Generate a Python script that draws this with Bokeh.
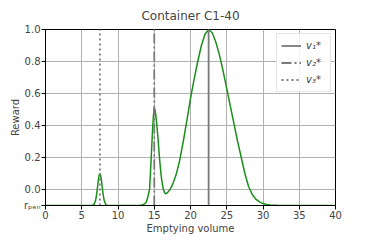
from bokeh.plotting import figure
from bokeh.models import Range1d, FixedTicker, Legend, LegendItem, PrintfTickFormatter
from bokeh.embed import file_html
from bokeh.resources import INLINE

# ---- data ----
x_ticks = [0, 5, 10, 15, 20, 25, 30, 35, 40]
y_ticks = [0.0, 0.2, 0.4, 0.6, 0.8, 1.0]
r_pen = -0.1
y_top = 1.0

v_star = [22.5, 15.0, 7.5]
v_labels = ["v₁*", "v₂*", "v₃*"]

volume = [0.0, 6.3, 6.5, 6.7, 6.9, 7.0, 7.1, 7.2, 7.3, 7.4, 7.5, 7.6, 7.7, 7.8, 7.9,
          8.0, 8.1, 8.3, 8.5, 9.0,
          12.5, 13.0, 13.3, 13.6, 13.9, 14.1, 14.25, 14.35, 14.45, 14.58, 14.7, 14.8,
          14.9, 15.0, 15.1, 15.2, 15.3, 15.4, 15.5, 15.6, 15.7, 15.8, 15.9, 16.0, 16.1,
          16.2, 16.3, 16.4, 16.55, 16.7, 16.9, 17.1, 17.3, 17.6, 18.0, 18.5, 19.0, 19.5,
          20.0, 20.5, 21.0, 21.5, 22.0, 22.5, 23.0, 23.5, 24.0, 24.5, 25.0, 25.5, 26.0,
          26.5, 27.0, 27.5, 28.0, 28.5, 29.0, 29.5, 30.0, 30.5, 31.0, 32.0, 33.0, 40.0]
reward = [-0.1, -0.1, -0.099, -0.093, -0.069, -0.046, -0.013, 0.025, 0.063, 0.090, 0.1,
          0.090, 0.063, 0.025, -0.013, -0.046, -0.069, -0.093, -0.099, -0.1,
          -0.1, -0.099, -0.097, -0.092, -0.08, -0.05, -0.02, 0.0, 0.08, 0.2, 0.31, 0.4,
          0.47, 0.51, 0.50, 0.47, 0.43, 0.38, 0.33, 0.27, 0.21, 0.16, 0.11, 0.07, 0.04,
          0.015, -0.005, -0.018, -0.026, -0.024, -0.016, -0.005, 0.01, 0.04, 0.09, 0.18,
          0.3, 0.43, 0.57, 0.69, 0.8, 0.9, 0.97, 1.0, 0.98, 0.92, 0.84, 0.74, 0.63, 0.52,
          0.41, 0.30, 0.2, 0.1, 0.02, -0.03, -0.06, -0.077, -0.088, -0.094, -0.097,
          -0.099, -0.1, -0.1]

FONT = "DejaVu Sans"

p = figure(width=364, height=236,
           x_range=Range1d(0, 40), y_range=Range1d(r_pen, y_top),
           output_backend="svg", toolbar_location=None,
           title="Container C1-40",
           min_border_left=45, min_border_right=29,
           min_border_top=0, min_border_bottom=0)

p.title.text_font = FONT
p.title.text_font_size = "12px"
p.title.text_font_style = "normal"
p.title.align = "center"
p.title.standoff = 13

p.outline_line_color = "black"
p.outline_line_width = 1
p.background_fill_color = "white"

p.xaxis.ticker = FixedTicker(ticks=x_ticks)
p.yaxis.ticker = FixedTicker(ticks=[r_pen] + y_ticks)
p.yaxis.formatter = PrintfTickFormatter(format="%.1f")
p.yaxis.major_label_overrides = {r_pen: "rₚₑₙ"}
p.xaxis.axis_label = "Emptying volume"
p.yaxis.axis_label = "Reward"
for ax in (p.xaxis, p.yaxis):
    ax.axis_label_text_font = FONT
    ax.axis_label_text_font_size = "10px"
    ax.axis_label_text_font_style = "normal"
    ax.major_label_text_font = FONT
    ax.major_label_text_font_size = "10px"
    ax.major_tick_in = 0
    ax.major_tick_out = 4
    ax.minor_tick_line_color = None
    ax.axis_line_color = "black"
    ax.major_label_standoff = 1
    ax.axis_label_standoff = 1
p.yaxis.axis_label_standoff = 0

p.xgrid.ticker = FixedTicker(ticks=x_ticks)
p.ygrid.ticker = FixedTicker(ticks=y_ticks)
p.grid.grid_line_color = "#b0b0b0"
p.grid.grid_line_width = 1

p.line(volume, reward, line_color="#1a8f1a", line_width=1.5)

dashes = ["solid", "10 3 2 3", "2 3"]
items = []
for v, lab, d in zip(v_star, v_labels, dashes):
    r = p.line([v, v], [r_pen, y_top], line_color="#7a7a7a", line_width=1.8,
               line_dash=d)
    items.append(LegendItem(label=lab, renderers=[r]))

legend = Legend(items=items, location="top_right")
legend.label_text_font = FONT
legend.label_text_font_size = "10px"
legend.label_text_font_style = "italic"
legend.glyph_width = 20
legend.glyph_height = 15
legend.label_height = 15
legend.spacing = 2
legend.padding = 4
legend.margin = 4
legend.border_line_color = "#cccccc"
legend.background_fill_alpha = 0.85
p.add_layout(legend)

open("out.html", "w").write(file_html(p, INLINE))
